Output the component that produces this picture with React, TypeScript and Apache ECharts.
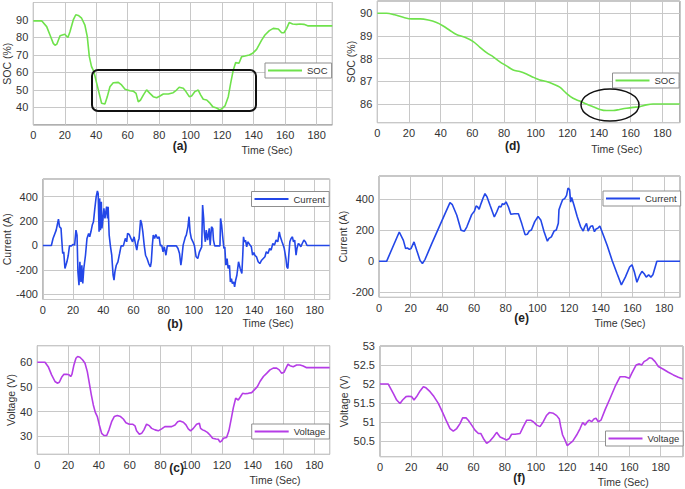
import React, { useEffect, useRef } from "react";
import * as echarts from "echarts";

// ---------- data (time in s, value) ----------
const socA: [number, number][] = [
  [0, 89.5], [5.3, 89.5], [8.5, 86.2], [10.6, 81.4], [12.7, 76.6], [13.8, 75.5], [15, 76.2], [17, 81], [20, 81.8], [22, 80],
  [23.3, 83.3], [25.4, 90], [27, 93], [28.6, 92.6], [30.7, 91], [32.8, 87], [34.3, 80.5], [35.6, 69], [37, 63.3], [38.5, 60.4],
  [40.3, 53.7], [42.4, 46], [43.4, 42.3], [45.5, 41.9], [47, 46], [48.7, 51.8], [50.8, 54.1], [54, 54.3], [56.1, 52.8], [58.3, 50.3],
  [61.4, 49.5], [63.5, 49.3], [65.3, 48], [66.7, 43.2], [68.2, 44.2], [69.9, 47], [72, 50], [74.1, 48], [76.2, 46.1], [78.4, 45.5],
  [80.5, 46.5], [82.6, 47.6], [85.8, 47.6], [88.9, 48.4], [91, 49.9], [92.7, 51.5], [95.3, 50.9], [97, 49], [99.1, 46.1], [100.6, 46.5],
  [102.7, 49], [104.8, 49.9], [106.3, 47.1], [108, 44.6], [110.2, 44.2], [111.9, 42.7], [114, 40.4], [116.5, 39.6], [118.6, 38.5], [120.1, 39.4],
  [121.8, 40.8], [123.9, 46.1], [125.4, 53.7], [127.1, 61.4], [128.6, 65.6], [130.7, 65.2], [132.4, 69], [134.5, 69.4], [137.3, 70], [139.4, 70.9],
  [141.9, 73.2], [145.1, 78.5], [147.2, 81.4], [150, 83.9], [152.5, 85.2], [155.7, 84.8], [157.8, 82.7], [159.3, 82.7], [161, 85.2], [162.6, 88.5],
  [164.8, 87.7], [167.3, 87.5], [169.4, 87.7], [172, 87.5], [174.7, 86.6], [190, 86.6],
];

const socD: [number, number][] = [
  [0, 90], [5.9, 90], [11, 89.93], [16.4, 89.82], [21.7, 89.75], [27, 89.75], [32.2, 89.7], [37.4, 89.59], [41.6, 89.44], [45.9, 89.24],
  [50, 89.06], [55.3, 88.94], [60.6, 88.75], [64.8, 88.5], [69, 88.26], [73.2, 88.08], [77.4, 87.86], [81.6, 87.68], [85.8, 87.5], [90, 87.43],
  [94.2, 87.32], [98.4, 87.18], [102.6, 87.06], [106.8, 86.99], [111, 86.88], [115.2, 86.74], [119.4, 86.47], [123.6, 86.25], [127.8, 86.13], [132, 86],
  [136.2, 85.88], [140.5, 85.76], [144.7, 85.71], [148.9, 85.71], [153, 85.76], [157.3, 85.81], [161.5, 85.85], [165.7, 85.88], [169.9, 85.96], [174.1, 86],
  [191, 86],
];

const currentB: [number, number][] = [
  [0, 0], [5.6, 0], [6.7, 57], [8.8, 126], [10.3, 216], [11, 153], [12, 140], [12.5, 44], [13.1, -66], [13.8, -52],
  [14.6, -189], [15.9, -134], [16.8, -80], [17.6, -3], [18.9, -3], [20, 8], [21, 3], [21.9, 126], [22.6, 85], [23.2, -216],
  [23.9, -326], [24.5, -134], [25.2, -299], [25.8, -162], [26.4, -312], [27.1, -189], [28.2, -80], [29.2, 58], [30.3, 99], [31, 71],
  [31.8, 112], [32.7, 167], [33.5, 195], [34.4, 304], [35.3, 400], [36.1, 447], [36.6, 427], [37.2, 112], [37.6, 386], [38.1, 126],
  [38.7, 359], [39.1, 140], [39.8, 222], [40.4, 304], [41.1, 222], [41.7, 277], [42.2, 318], [42.8, 222], [43.2, 318], [43.9, 85],
  [44.7, -3], [45.6, -80], [46.5, -244], [47.1, -285], [47.7, -216], [48.6, -162], [49.7, -134], [50.8, -66], [51.8, -3], [53.3, -3],
  [54.6, 58], [55.5, 30], [56.1, 99], [57.2, 90], [58.3, 58], [59.4, 30], [60.4, 71], [61.5, 3], [62.2, -38], [63, 30],
  [63.7, 58], [64.7, 208], [65.4, 181], [66.2, 112], [67.1, 3], [68, -80], [69, -107], [70.1, -148], [71.2, -175], [71.8, -134],
  [72.5, 3], [73.1, 85], [74, 58], [74.8, 90], [75.9, 58], [77, 71], [77.8, -3], [78.7, 3], [79.6, -52], [80.4, -11],
  [81.5, -80], [82.4, -3], [88.4, -3], [89.5, -25], [90.5, -66], [91.4, -162], [92, -107], [92.9, 3], [93.8, 44], [94.4, 71],
  [95, 85], [96.1, 153], [96.8, 236], [97.5, 112], [98.3, 58], [99.4, 30], [100.4, -3], [101.5, -93], [102.6, -107], [103.7, -52],
  [105.2, -11], [105.8, 332], [106.5, 222], [106.9, 112], [107.6, 30], [108.2, 126], [109.1, 44], [110.2, 140], [110.8, 3], [111.7, 153],
  [112.5, 140], [113, 44], [113.8, -3], [117.3, -3], [117.7, 222], [118.4, 167], [119, 85], [119.9, -25], [120.5, -11], [121.2, -162],
  [122, -107], [122.7, -189], [123.6, -162], [124.2, -299], [124.9, -271], [125.5, -312], [126.4, -299], [127, -340], [127.7, -285], [128.5, -244],
  [129.6, -134], [130.7, -189], [131.8, -230], [132.4, -80], [132.9, 71], [133.5, 30], [134.2, 44], [135, -11], [135.7, 30], [136.5, 16],
  [137.2, 3], [138.1, -11], [138.9, -80], [139.8, -58], [140.4, -80], [141.5, -93], [142.6, -134], [143.7, -148], [144.9, -121], [146, -107],
  [147.1, -93], [148, -52], [149.1, -66], [150.2, -25], [151.2, -38], [152.3, 16], [153.4, 3], [154.5, 44], [155.6, 30], [156.6, 112],
  [157.3, 71], [158.4, 30], [159.2, 3], [159.9, -25], [161, -107], [161.6, -175], [162.3, -189], [162.9, -80], [163.6, 30], [164.4, 58],
  [165.3, 71], [166, 30], [166.8, 44], [167.7, -80], [168.3, -25], [169.2, 16], [170, 8], [170.9, -11], [171.8, 16], [172.9, 44],
  [173.9, 30], [175, 0], [190, 0],
];

const currentE: [number, number][] = [
  [0, 0], [4.8, 0], [12.8, 189], [15.4, 135], [16.8, 82], [17.9, 86], [19.2, 77], [20.2, 82], [22.1, 125], [23.8, 71],
  [25.9, 6], [27.4, -15], [29.1, 13], [33.3, 114], [37.5, 211], [41.7, 307], [44.8, 378], [46.3, 365], [49.1, 297], [51.8, 200],
  [53.9, 194], [55.4, 221], [58.5, 301], [60.2, 323], [61.3, 357], [62.3, 350], [63.2, 335], [64.4, 372], [65.7, 408], [66.9, 436],
  [68.2, 415], [70.1, 361], [72.8, 286], [74.3, 318], [75.8, 355], [77, 350], [77.9, 372], [78.9, 366], [80.2, 383], [81.7, 350],
  [83.2, 303], [85.5, 307], [88, 307], [90.1, 243], [92.2, 172], [93.7, 175], [94.8, 195], [96.2, 202], [98.3, 256], [100.4, 289],
  [102.1, 267], [104.2, 191], [106.3, 130], [107.3, 148], [108.8, 158], [110.5, 195], [111.9, 202], [113.2, 245], [113.6, 332], [114.7, 365],
  [115.9, 397], [117.2, 404], [118.4, 425], [119.3, 472], [120.3, 462], [121, 382], [121.6, 412], [123, 365], [125.1, 289], [127.2, 224],
  [128.9, 195], [129.9, 224], [131, 245], [132, 195], [133.5, 224], [134.8, 230], [136, 191], [137, 208], [138.1, 213], [139.4, 228],
  [140.8, 191], [144, 104], [147.1, 7], [150.3, -80], [153, -152], [155.5, -102], [158.2, -37], [159.7, -22], [161.2, -69], [162.8, -135],
  [164.5, -91], [166, -65], [167.4, -80], [168.7, -102], [170.2, -87], [171.6, -102], [172.9, -87], [175.4, 0], [190, 0],
];

const voltageC: [number, number][] = [
  [0, 60], [5, 60], [7.1, 58.2], [9.3, 54.9], [11.5, 52.2], [13, 51.5], [14.3, 51.9], [15.8, 53.9], [17.3, 55.1], [19.1, 55.1],
  [20.6, 54.9], [21.7, 54.2], [22.5, 55.1], [23.8, 58.9], [25.1, 61.6], [26.2, 62.3], [27.7, 62], [29.5, 60.9], [31, 59.6], [32.5, 56.2],
  [33.8, 51.5], [35.1, 46.8], [36.4, 42.7], [37.7, 39.7], [39, 38], [40.3, 34.6], [41.8, 31.2], [43.3, 30.3], [45.1, 30.3], [46.6, 32.6],
  [48.3, 35.9], [50, 38], [52, 38.4], [54.1, 38], [55.9, 37], [57.6, 35.5], [59.8, 34.9], [61.9, 34.9], [63.5, 34.2], [64.5, 32.2],
  [66.3, 30.8], [67.8, 31.2], [69.3, 32.6], [71, 34.9], [72.8, 34.3], [74.3, 33.2], [76.5, 32.6], [78.6, 32.2], [80.8, 33], [82.9, 33.9],
  [87.3, 33.9], [89.5, 34.6], [91.2, 35.9], [92.7, 36.2], [94.9, 35.7], [96.6, 34.6], [98.1, 33], [99.6, 32.2], [101.4, 33.2], [103.5, 34.9],
  [105.3, 35.3], [106.1, 33.2], [107.4, 32.6], [108.9, 32.2], [110.5, 31.6], [112.2, 30.5], [113.9, 29.2], [116.1, 28.9], [117.6, 28.8], [118.7, 27.6],
  [119.8, 28.1], [120.9, 29.2], [123, 29.5], [124.5, 32.2], [126.3, 38], [127.4, 41.6], [128.9, 45.4], [130.6, 44.7], [132.1, 46.1], [133.4, 47.4],
  [135, 47.2], [137.1, 47.4], [139.3, 47.7], [141, 48.8], [143, 50.1], [144.7, 52.2], [146.9, 54.2], [149, 55.5], [151.2, 56.9], [153.3, 57.6],
  [155.5, 57.6], [157.2, 56.9], [158.8, 55.5], [160.3, 55.9], [161.6, 57.6], [162.9, 59.2], [164.2, 58.6], [166.3, 58.2], [168.5, 58.9], [170.7, 58.9],
  [172.8, 58.5], [175, 57.8], [190, 57.8],
];

const voltageF: [number, number][] = [
  [0, 52], [5.3, 52], [8.6, 51.75], [10.7, 51.58], [12.8, 51.49], [14.5, 51.58], [16.7, 51.67], [18.2, 51.68], [20.3, 51.67], [21.8, 51.58],
  [23.5, 51.67], [25.7, 51.82], [27.8, 51.93], [29.5, 51.9], [32.1, 51.8], [34.6, 51.67], [37.4, 51.49], [40.2, 51.25], [42.8, 51.01], [44.9, 50.83],
  [47, 50.76], [49.2, 50.83], [51.3, 50.96], [53, 51.11], [55.2, 51.11], [56.6, 51.05], [58.8, 50.92], [60.9, 50.79], [63.1, 50.7], [64.6, 50.7],
  [66.3, 50.57], [68.4, 50.44], [70.5, 50.5], [72.7, 50.61], [74.8, 50.73], [77, 50.61], [79.1, 50.57], [81.2, 50.53], [82.9, 50.57], [84.4, 50.68],
  [86.6, 50.68], [89.8, 50.7], [91.9, 50.88], [94.1, 51.05], [96.6, 51.05], [98.3, 51.01], [100.5, 50.92], [102.6, 50.88], [104.7, 51.01], [106.9, 51.18],
  [108.6, 51.25], [111.2, 51.23], [113.3, 51.17], [115, 51.08], [115.9, 50.88], [117.1, 50.66], [118.6, 50.53], [120.1, 50.38], [121.8, 50.44], [123.6, 50.5],
  [126.1, 50.66], [128.3, 50.83], [130, 50.99], [131.5, 50.92], [133, 51.01], [134.2, 51.05], [135.7, 51.01], [137.2, 51.08], [138.5, 51.1], [140, 51.01],
  [141.7, 51.05], [144.3, 51.32], [147.5, 51.62], [150.7, 51.93], [153.9, 52.19], [157.1, 52.19], [159.9, 52.15], [161.4, 52.28], [164.2, 52.5], [166.3, 52.53],
  [167.8, 52.5], [169.3, 52.59], [171, 52.63], [172.7, 52.69], [174.2, 52.68], [176.4, 52.59], [178.5, 52.46], [181.7, 52.39], [184.9, 52.31], [188.1, 52.24],
  [191.3, 52.18], [194.3, 52.13],
];

const panelLabels = ["(a)", "(d)", "(b)", "(e)", "(c)", "(f)"];
const timeLabel = "Time (Sec)";

// ---------- styling ----------
const FONT = "'Liberation Sans', Arial, Helvetica, sans-serif";
const GREEN = "#6fe24c";
const BLUE = "#2347e8";
const PURPLE = "#b53de6";
const TXT = "#333333";
const GRIDLINE = "#c8c8c8";
const BORDER = "#8f8f8f";

type Panel = {
  grid: { left: number; top: number; width: number; height: number };
  xMax: number;
  yMin: number;
  yMax: number;
  yStep: number;
  yName: string;
  nameGap: number;
  showYMax: boolean;
  name: string;
  color: string;
  data: [number, number][];
  smooth: boolean;
  legend: { left: number; top: number };
  label: [number, number];
  time: [number, number];
};

const panels: Panel[] = [
  { grid: { left: 33.3, top: 2.5, width: 299, height: 122.3 }, xMax: 190, yMin: 30, yMax: 100, yStep: 10, yName: "SOC (%)", nameGap: 19, showYMax: false,
    name: "SOC", color: GREEN, data: socA, smooth: false, legend: { left: 265, top: 63 }, label: [180, 146], time: [267, 150] },
  { grid: { left: 377.3, top: 1, width: 302.5, height: 121.7 }, xMax: 191, yMin: 85.175, yMax: 90.54, yStep: 1, yName: "SOC (%)", nameGap: 20, showYMax: false,
    name: "SOC", color: GREEN, data: socD, smooth: true, legend: { left: 612.5, top: 73 }, label: [512.7, 146], time: [616.7, 149] },
  { grid: { left: 37.3, top: 179, width: 292.4, height: 120.5 }, xMax: 190, yMin: -443, yMax: 545, yStep: 200, yName: "Current (A)", nameGap: 24, showYMax: false,
    name: "Current", color: BLUE, data: currentB, smooth: false, legend: { left: 251.5, top: 191.5 }, label: [175, 324], time: [268, 323] },
  { grid: { left: 379, top: 176, width: 301, height: 121.3 }, xMax: 190, yMin: -232, yMax: 550, yStep: 200, yName: "Current (A)", nameGap: 25, showYMax: false,
    name: "Current", color: BLUE, data: currentE, smooth: false, legend: { left: 603, top: 191 }, label: [521.7, 318.3], time: [620, 323] },
  { grid: { left: 37.3, top: 345.7, width: 292.4, height: 108.6 }, xMax: 190, yMin: 22.7, yMax: 66.7, yStep: 10, yName: "Voltage (V)", nameGap: 17, showYMax: false,
    name: "Voltage", color: PURPLE, data: voltageC, smooth: false, legend: { left: 251.7, top: 424 }, label: [176.7, 467.7], time: [275, 480] },
  { grid: { left: 380, top: 346, width: 303, height: 110.7 }, xMax: 194.3, yMin: 50.09, yMax: 53, yStep: 0.5, yName: "Voltage (V)", nameGap: 25, showYMax: true,
    name: "Voltage", color: PURPLE, data: voltageF, smooth: false, legend: { left: 605.5, top: 431 }, label: [519.3, 477.7], time: [623.3, 481.7] },
];

function buildOption() {
  const grid = panels.map((p) => ({
    ...p.grid,
    show: true,
    borderColor: BORDER,
    borderWidth: 1,
    backgroundColor: "#ffffff",
    containLabel: false,
  }));
  const xAxis = panels.map((p, i) => ({
    type: "value",
    gridIndex: i,
    min: 0,
    max: p.xMax,
    minInterval: 20,
    maxInterval: 20,
    axisLine: { show: false },
    axisTick: { show: false },
    splitLine: { show: true, lineStyle: { color: GRIDLINE, width: 1 } },
    axisLabel: { fontSize: 11, color: TXT, margin: 5, fontFamily: FONT, showMaxLabel: false, showMinLabel: true },
  }));
  const yAxis = panels.map((p, i) => ({
    type: "value",
    gridIndex: i,
    min: p.yMin,
    max: p.yMax,
    minInterval: p.yStep,
    maxInterval: p.yStep,
    name: p.yName,
    nameLocation: "middle",
    nameRotate: 90,
    nameGap: p.nameGap,
    nameTextStyle: { fontSize: 10.5, color: TXT, fontFamily: FONT },
    axisLine: { show: false },
    axisTick: { show: false },
    splitLine: { show: true, lineStyle: { color: GRIDLINE, width: 1 } },
    axisLabel: { fontSize: 11, color: TXT, margin: 5, fontFamily: FONT, showMinLabel: false, showMaxLabel: p.showYMax },
  }));
  const series = panels.map((p, i) => ({
    type: "line",
    name: p.name,
    xAxisIndex: i,
    yAxisIndex: i,
    data: p.data,
    symbol: "none",
    showSymbol: false,
    smooth: p.smooth ? 0.3 : false,
    clip: true,
    lineStyle: { color: p.color, width: 1.6 },
    itemStyle: { color: p.color },
  }));
  const legend = panels.map((p) => ({
    show: true,
    left: p.legend.left,
    top: p.legend.top,
    orient: "horizontal",
    data: [{ name: p.name, icon: "rect" }],
    backgroundColor: "#ffffff",
    borderColor: BORDER,
    borderWidth: 1,
    borderRadius: 0,
    padding: [2, 4, 2, 3],
    itemWidth: 34,
    itemHeight: 1.8,
    itemGap: 5,
    selectedMode: false,
    itemStyle: { color: p.color, borderWidth: 0 },
    lineStyle: { width: 0 },
    textStyle: { fontSize: 9.5, color: TXT, fontFamily: FONT, lineHeight: 11 },
  }));
  const graphic: any[] = [];
  panels.forEach((p, i) => {
    graphic.push({
      type: "text",
      x: p.label[0],
      y: p.label[1],
      z: 100,
      style: { text: panelLabels[i], font: `bold 12px ${FONT}`, fill: "#222", align: "center", verticalAlign: "middle" },
    });
    graphic.push({
      type: "text",
      x: p.time[0],
      y: p.time[1],
      z: 100,
      style: { text: timeLabel, font: `10.5px ${FONT}`, fill: TXT, align: "center", verticalAlign: "middle" },
    });
  });
  graphic.push({
    type: "rect",
    z: 100,
    shape: { x: 92, y: 70, width: 164, height: 41, r: 6 },
    style: { fill: "none", stroke: "#111", lineWidth: 2 },
  });
  graphic.push({
    type: "ellipse",
    z: 100,
    shape: { cx: 610, cy: 105, rx: 29, ry: 16 },
    style: { fill: "none", stroke: "#111", lineWidth: 1.5 },
  });

  return {
    animation: false,
    backgroundColor: "#ffffff",
    textStyle: { fontFamily: FONT },
    grid,
    xAxis,
    yAxis,
    series,
    legend,
    graphic,
  };
}

export default function App() {
  const ref = useRef<HTMLDivElement>(null);
  useEffect(() => {
    if (!ref.current) return;
    const chart = echarts.init(ref.current, null, { renderer: "svg" });
    chart.setOption(buildOption() as any);
    return () => {
      chart.dispose();
    };
  }, []);
  return (
    <div
      ref={ref}
      style={{ position: "fixed", left: 0, top: 0, width: 685, height: 489, background: "#fff" }}
    />
  );
}
